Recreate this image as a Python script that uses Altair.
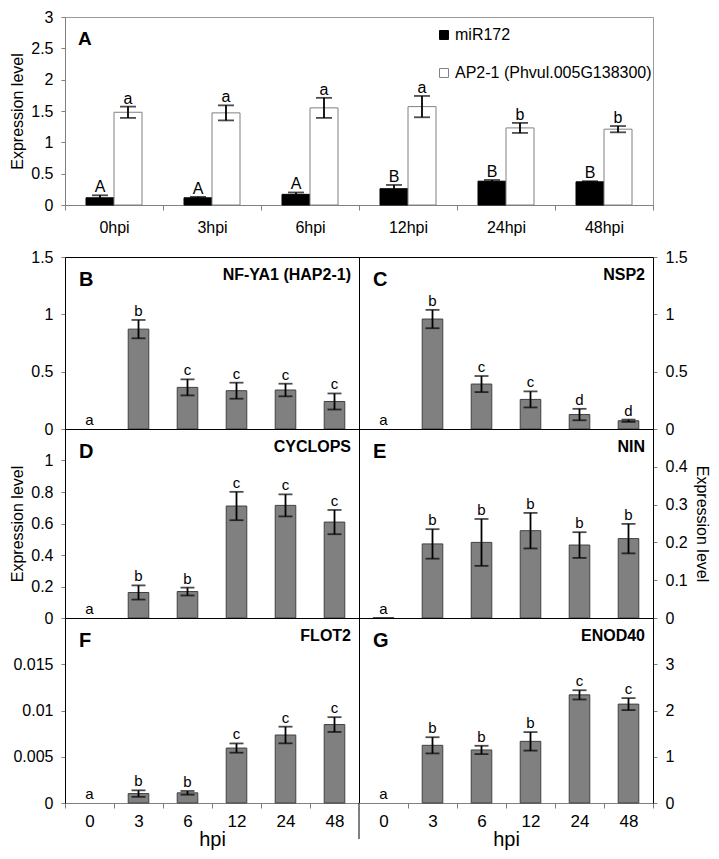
import altair as alt
import pandas as pd

FONT = "Liberation Sans"

# ---------------- Panel A data ----------------
times_a = ["0hpi", "3hpi", "6hpi", "12hpi", "24hpi", "48hpi"]
series_a = ["miR172", "AP2-1 (Phvul.005G138300)"]
mir172 = [0.115, 0.115, 0.17, 0.26, 0.38, 0.37]
mir172_err = [0.04, 0.015, 0.03, 0.06, 0.02, 0.01]
mir172_lab = ["A", "A", "A", "B", "B", "B"]
ap2 = [1.48, 1.47, 1.55, 1.57, 1.23, 1.21]
ap2_err = [0.09, 0.12, 0.16, 0.17, 0.08, 0.05]
ap2_lab = ["a", "a", "a", "a", "b", "b"]
ticks_a = [0, 0.5, 1, 1.5, 2, 2.5, 3]

# ---------------- Panels B-G data ----------------
times = ["0", "3", "6", "12", "24", "48"]

nfya1 = [0, 0.871, 0.363, 0.334, 0.34, 0.24]
nfya1_err = [0, 0.08, 0.07, 0.07, 0.055, 0.07]
nfya1_lab = ["a", "b", "c", "c", "c", "c"]

nsp2 = [0, 0.959, 0.392, 0.258, 0.126, 0.072]
nsp2_err = [0, 0.08, 0.07, 0.07, 0.05, 0.01]
nsp2_lab = ["a", "b", "c", "c", "d", "d"]

cyclops = [0, 0.162, 0.168, 0.711, 0.715, 0.609]
cyclops_err = [0, 0.045, 0.025, 0.09, 0.07, 0.077]
cyclops_lab = ["a", "b", "b", "c", "c", "c"]

nin = [0.001, 0.196, 0.2, 0.231, 0.193, 0.21]
nin_err = [0, 0.039, 0.062, 0.047, 0.034, 0.039]
nin_lab = ["a", "b", "b", "b", "b", "b"]

flot2 = [0, 0.00102, 0.0011, 0.00594, 0.00735, 0.00848]
flot2_err = [0, 0.00035, 0.0002, 0.0005, 0.0009, 0.0008]
flot2_lab = ["a", "b", "b", "c", "c", "c"]

enod40 = [0, 1.247, 1.147, 1.333, 2.338, 2.138]
enod40_err = [0, 0.175, 0.09, 0.2, 0.1, 0.13]
enod40_lab = ["a", "b", "b", "b", "c", "c"]

W = 294          # width of each lower panel
WA = 2 * W       # width of panel A
HA = 188
H1, H2, H3 = 172, 189, 185
GRAY = "#808080"


def annotation(text, x, y, align, size):
    return alt.Chart(pd.DataFrame({"s": [text]})).mark_text(
        align=align, baseline="top", fontSize=size, fontWeight="bold", color="black"
    ).encode(x=alt.value(x), y=alt.value(y), text="s:N")


def panel(vals, errs, labs, gene, letter, domain, ticks, h, side, bottom,
          ytitle=None, midline=False):
    df = pd.DataFrame({"t": times, "v": vals, "e": errs, "lab": labs})
    df["lo"] = df["v"] - df["e"]
    df["hi"] = df["v"] + df["e"]

    if bottom:
        xaxis = alt.Axis(title="hpi", labelAngle=0, labelFontSize=17, labelColor="black",
                         tickBand="extent", tickSize=5, tickColor=GRAY, domainColor=GRAY,
                         labelPadding=5, titleFontSize=20, titleFontWeight="normal",
                         titleColor="black", titleY=26, titleBaseline="top")
    else:
        xaxis = alt.Axis(title=None, labels=False, ticks=False, domainColor=GRAY)

    ykw = dict(values=ticks, format="~g", grid=False, labelFontSize=16, labelColor="black",
               tickSize=4, tickColor=GRAY, labelPadding=8, domainColor="black", orient=side)
    if ytitle:
        ykw.update(title=ytitle, titleFontSize=16, titleFontWeight="normal", titleColor="black",
                   titleX=(-40 if side == "left" else 40),
                   titleAngle=(-90 if side == "left" else 90), titleBaseline="bottom")
    else:
        ykw.update(title=None)
    yaxis = alt.Axis(**ykw)

    X = alt.X("t:N", sort=times, scale=alt.Scale(paddingInner=0, paddingOuter=0), axis=xaxis)
    ys = alt.Scale(domain=domain, nice=False, zero=False)

    base = alt.Chart(df)
    bars = base.transform_filter("datum.v > 0").mark_bar(
        width=alt.RelativeBandSize(0.42), fill=GRAY, stroke="#404040", strokeWidth=1
    ).encode(x=X, y=alt.Y("v:Q", scale=ys, axis=yaxis))
    eb = base.transform_filter("datum.e > 0")
    rule = eb.mark_rule(color="black", strokeWidth=1.8).encode(
        x=X, y=alt.Y("lo:Q", scale=ys, axis=yaxis), y2="hi:Q")
    cap_lo = eb.mark_tick(color="black", thickness=1.8, size=14).encode(
        x=X, y=alt.Y("lo:Q", scale=ys, axis=yaxis))
    cap_hi = eb.mark_tick(color="black", thickness=1.8, size=14).encode(
        x=X, y=alt.Y("hi:Q", scale=ys, axis=yaxis))
    txt = base.mark_text(fontSize=15, baseline="alphabetic", dy=-4, color="black").encode(
        x=X, y=alt.Y("hi:Q", scale=ys, axis=yaxis), text="lab:N")
    layers = [bars, rule, cap_lo, cap_hi, txt,
              annotation(letter, 14, 13, "left", 20),
              annotation(gene, W - 8, 10, "right", 16)]
    if midline:
        layers.append(alt.Chart(pd.DataFrame({"z": [0]})).mark_rule(
            color="black", strokeWidth=1).encode(
            x=alt.value(W), y=alt.value(h), y2=alt.value(h + 36)))
    return alt.layer(*layers).properties(width=W, height=h)


# ---------------- Panel A ----------------
dfA = pd.DataFrame({
    "time": times_a * 2,
    "series": [series_a[0]] * 6 + [series_a[1]] * 6,
    "v": mir172 + ap2,
    "e": mir172_err + ap2_err,
    "lab": mir172_lab + ap2_lab,
})
dfA["lo"] = dfA["v"] - dfA["e"]
dfA["hi"] = dfA["v"] + dfA["e"]

xA = alt.X("time:N", sort=times_a, scale=alt.Scale(paddingInner=0, paddingOuter=0),
           axis=alt.Axis(title=None, labelAngle=0, labelFontSize=16, labelColor="black",
                         tickBand="extent", tickSize=5, tickColor=GRAY, domainColor=GRAY,
                         labelPadding=9))
xoA = alt.XOffset("series:N", sort=series_a, scale=alt.Scale(paddingInner=0, paddingOuter=0.75))
ysA = alt.Scale(domain=[0, 3], nice=False)
yaxA = alt.Axis(values=ticks_a, format="~g", grid=False, labelFontSize=16, labelColor="black",
                tickSize=4, tickColor=GRAY, labelPadding=8, domainColor=GRAY,
                title="Expression level", titleFontSize=16, titleFontWeight="normal",
                titleColor="black", titleX=-40, titleAngle=-90, titleBaseline="bottom")

baseA = alt.Chart(dfA)
barsA = baseA.mark_bar(strokeWidth=1).encode(
    x=xA, xOffset=xoA, y=alt.Y("v:Q", scale=ysA, axis=yaxA),
    fill=alt.Fill("series:N", sort=series_a,
                  scale=alt.Scale(domain=series_a, range=["black", "white"]),
                  legend=alt.Legend(orient="none", legendX=371, legendY=10, title=None,
                                    direction="vertical", symbolType="square", symbolSize=80,
                                    labelFontSize=16, labelColor="black", labelOffset=3,
                                    rowPadding=22, symbolStrokeColor=GRAY,
                                    symbolStrokeWidth=1, padding=0, labelLimit=400)),
    stroke=alt.Stroke("series:N", sort=series_a,
                      scale=alt.Scale(domain=series_a, range=["black", GRAY]), legend=None),
)
ruleA = baseA.mark_rule(color="black", strokeWidth=1.8).encode(
    x=xA, xOffset=xoA, y=alt.Y("lo:Q", scale=ysA, axis=yaxA), y2="hi:Q")
capA1 = baseA.mark_tick(color="black", thickness=1.8, size=16).encode(
    x=xA, xOffset=xoA, y=alt.Y("lo:Q", scale=ysA, axis=yaxA))
capA2 = baseA.mark_tick(color="black", thickness=1.8, size=16).encode(
    x=xA, xOffset=xoA, y=alt.Y("hi:Q", scale=ysA, axis=yaxA))
txtA = baseA.mark_text(fontSize=16, baseline="alphabetic", dy=-3, color="black").encode(
    x=xA, xOffset=xoA, y=alt.Y("hi:Q", scale=ysA, axis=yaxA), text="lab:N")
letterA = annotation("A", 13, 13, "left", 19)

panelA = alt.layer(barsA, ruleA, capA1, capA2, txtA, letterA).properties(
    width=WA, height=HA, view=alt.ViewBackground(stroke="#9a9a9a"))

# ---------------- Panels B-G ----------------
pB = panel(nfya1, nfya1_err, nfya1_lab, "NF-YA1 (HAP2-1)", "B", [0, 1.5],
           [0, 0.5, 1, 1.5], H1, "left", False)
pC = panel(nsp2, nsp2_err, nsp2_lab, "NSP2", "C", [0, 1.5],
           [0, 0.5, 1, 1.5], H1, "right", False)
pD = panel(cyclops, cyclops_err, cyclops_lab, "CYCLOPS", "D", [0, 1.2],
           [0, 0.2, 0.4, 0.6, 0.8, 1], H2, "left", False, ytitle="Expression level")
pE = panel(nin, nin_err, nin_lab, "NIN", "E", [0, 0.5],
           [0, 0.1, 0.2, 0.3, 0.4], H2, "right", False, ytitle="Expression level")
pF = panel(flot2, flot2_err, flot2_lab, "FLOT2", "F", [0, 0.02],
           [0, 0.005, 0.01, 0.015], H3, "left", True, midline=True)
pG = panel(enod40, enod40_err, enod40_lab, "ENOD40", "G", [0, 4],
           [0, 1, 2, 3], H3, "right", True)

grid = alt.concat(pB, pC, pD, pE, pF, pG, columns=2, spacing=0, bounds="flush", align="each")

chart = alt.vconcat(panelA, grid, spacing=12).properties(padding=0).configure(
    font=FONT
).configure_view(stroke="black", strokeWidth=1)

chart.save("out.html", embed_options={"renderer": "svg", "actions": False})
